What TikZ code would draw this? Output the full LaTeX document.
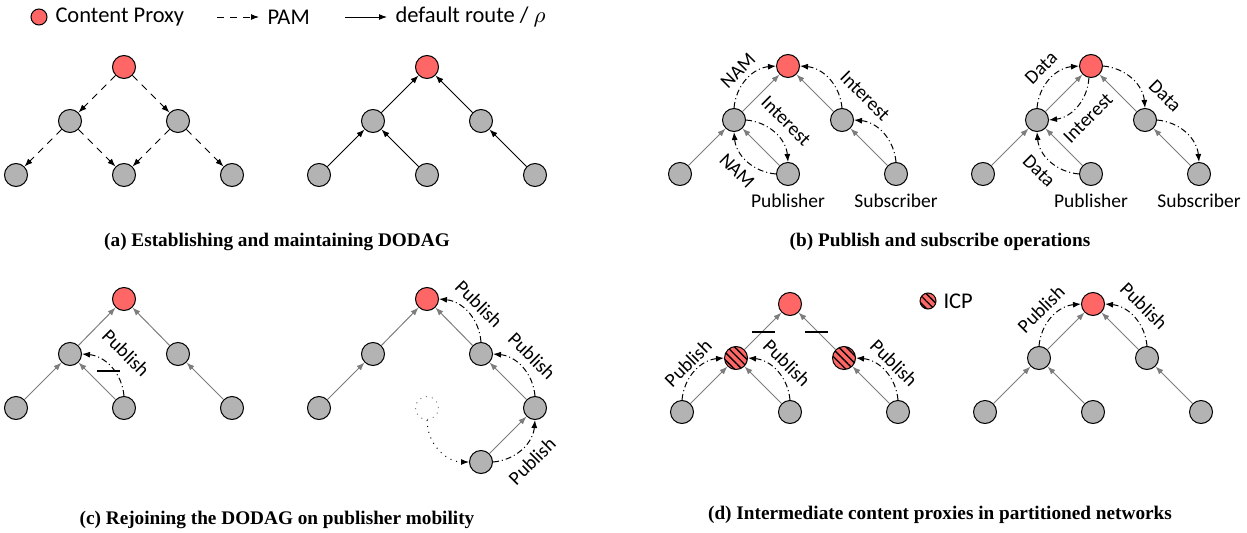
\documentclass[tikz,border=0pt]{standalone}
\usepackage{fontspec}
\setmainfont{Liberation Serif}
\newfontfamily\labelfont{Carlito}
\usetikzlibrary{arrows.meta,patterns.meta}

\definecolor{proxyred}{RGB}{255,102,102}
\definecolor{nodegray}{RGB}{179,179,179}
\definecolor{edgegray}{RGB}{125,125,125}

\tikzset{
  x=0.4pt, y=0.4pt,
  tip/.style={-{Latex[length=3.2pt,width=2.4pt]}},
  vertex/.style={circle, draw=black, line width=0.4pt, fill=nodegray,
    minimum size=9.2pt, inner sep=0pt},
  proxy/.style={vertex, fill=proxyred},
  icp/.style={proxy, postaction={pattern={Lines[angle=-45,distance=2.1pt,line width=0.55pt]}}},
  ghost/.style={circle, draw=gray, dotted, line width=0.4pt,
    minimum size=9.2pt, inner sep=0pt},
  pam/.style={tip, line width=0.4pt, dash pattern=on 2.8pt off 2.4pt},
  route/.style={tip, line width=0.4pt},
  link/.style={-{Latex[length=3.2pt,width=2.4pt]}, draw=edgegray, line width=0.4pt},
  msg/.style={tip, line width=0.4pt, dash pattern=on 2.4pt off 1.2pt on 0.4pt off 1.2pt},
  move/.style={tip, line width=0.4pt, dotted},
  cut/.style={line width=0.45pt},
  lbl/.style={font=\labelfont\fontsize{7.8}{9}\selectfont, inner sep=0pt},
  legend/.style={font=\labelfont\fontsize{9}{10}\selectfont, inner sep=0pt, anchor=west},
  caption/.style={font=\bfseries\fontsize{7.7}{9}\selectfont, inner sep=0pt},
}

\begin{document}
\begin{tikzpicture}
\useasboundingbox (0,0) rectangle (1247,-533);

% ---------- legend ----------
\node[proxy, minimum size=6.4pt] (lgproxy) at (39,-17) {};
\node[legend] (lgproxytxt) at (55,-17) {Content Proxy};
\coordinate (pamA) at (217,-17);
\coordinate (pamB) at (259,-17);
\draw[pam] (pamA) -- (pamB);
\node[legend] (pamtxt) at (267,-17) {PAM};
\coordinate (rtA) at (345,-17);
\coordinate (rtB) at (387,-17);
\draw[route] (rtA) -- (rtB);
\node[legend] (rttxt) at (395,-17) {default route / $\rho$};

% ---------- (a) left: PAM flooding ----------
\node[proxy]  (a1r)  at (124,-67) {};
\node[vertex] (a1m1) at (70,-121) {};
\node[vertex] (a1m2) at (178,-121) {};
\node[vertex] (a1l1) at (16,-175) {};
\node[vertex] (a1l2) at (124,-175) {};
\node[vertex] (a1l3) at (232,-175) {};
\draw[pam] (a1r) -- (a1m1);
\draw[pam] (a1r) -- (a1m2);
\draw[pam] (a1m1) -- (a1l1);
\draw[pam] (a1m1) -- (a1l2);
\draw[pam] (a1m2) -- (a1l2);
\draw[pam] (a1m2) -- (a1l3);

% ---------- (a) right: default routes ----------
\node[proxy]  (a2r)  at (427,-67) {};
\node[vertex] (a2m1) at (373,-121) {};
\node[vertex] (a2m2) at (481,-121) {};
\node[vertex] (a2l1) at (319,-175) {};
\node[vertex] (a2l2) at (427,-175) {};
\node[vertex] (a2l3) at (535,-175) {};
\draw[route] (a2l1) -- (a2m1);
\draw[route] (a2l2) -- (a2m1);
\draw[route] (a2l3) -- (a2m2);
\draw[route] (a2m1) -- (a2r);
\draw[route] (a2m2) -- (a2r);

\node[caption] (capa) at (277,-242) {(a) Establishing and maintaining DODAG};

% ---------- (b) left: NAM and Interest ----------
\node[proxy]  (b1r)  at (788,-66) {};
\node[vertex] (b1m1) at (734,-120) {};
\node[vertex] (b1m2) at (842,-120) {};
\node[vertex] (b1l1) at (680,-174) {};
\node[vertex] (b1l2) at (788,-174) {};
\node[vertex] (b1l3) at (896,-174) {};
\draw[link] (b1l1) -- (b1m1);
\draw[link] (b1l2) -- (b1m1);
\draw[link] (b1l3) -- (b1m2);
\draw[link] (b1m1) -- (b1r);
\draw[link] (b1m2) -- (b1r);
\draw[msg] (b1m1.north) to[bend left=40] (b1r.west);
\draw[msg] (b1m1.east) to[bend left=40] (b1l2.north);
\draw[msg] (b1l2.west) to[bend left=40] (b1m1.south);
\draw[msg] (b1l3.north) to[bend right=40] (b1m2.east);
\draw[msg] (b1m2.north) to[bend right=40] (b1r.east);
\node[lbl, rotate=45]  (b1t1) at (738,-71) {NAM};
\node[lbl, rotate=-45] (b1t2) at (786,-121) {Interest};
\node[lbl, rotate=-45] (b1t3) at (737,-171) {NAM};
\node[lbl, rotate=-45] (b1t4) at (865,-96) {Interest};
\node[lbl] (b1pub) at (788,-201) {Publisher};
\node[lbl] (b1sub) at (896,-201) {Subscriber};

% ---------- (b) right: Data delivery ----------
\node[proxy]  (b2r)  at (1091,-66) {};
\node[vertex] (b2m1) at (1037,-120) {};
\node[vertex] (b2m2) at (1145,-120) {};
\node[vertex] (b2l1) at (983,-174) {};
\node[vertex] (b2l2) at (1091,-174) {};
\node[vertex] (b2l3) at (1199,-174) {};
\draw[link] (b2l1) -- (b2m1);
\draw[link] (b2l2) -- (b2m1);
\draw[link] (b2l3) -- (b2m2);
\draw[link] (b2m1) -- (b2r);
\draw[link] (b2m2) -- (b2r);
\draw[msg] (b2l2.west) to[bend left=40] (b2m1.south);
\draw[msg] (b2m1.north) to[bend left=40] (b2r.west);
\draw[msg] (b2r.-100) to[bend left=40] (b2m1.east);
\draw[msg] (b2r.east) to[bend left=40] (b2m2.north);
\draw[msg] (b2m2.east) to[bend left=40] (b2l3.north);
\node[lbl, rotate=45]  (b2t1) at (1041,-68) {Data};
\node[lbl, rotate=45]  (b2t2) at (1088,-118) {Interest};
\node[lbl, rotate=-45] (b2t3) at (1039,-171) {Data};
\node[lbl, rotate=-45] (b2t4) at (1165,-96) {Data};
\node[lbl] (b2pub) at (1091,-201) {Publisher};
\node[lbl] (b2sub) at (1199,-201) {Subscriber};

\node[caption] (capb) at (940,-242) {(b) Publish and subscribe operations};

% ---------- (c) left: broken publish path ----------
\node[proxy]  (c1r)  at (124,-299) {};
\node[vertex] (c1m1) at (70,-354) {};
\node[vertex] (c1m2) at (178,-354) {};
\node[vertex] (c1l1) at (16,-408) {};
\node[vertex] (c1l2) at (124,-408) {};
\node[vertex] (c1l3) at (232,-408) {};
\draw[link] (c1l1) -- (c1m1);
\draw[link] (c1l2) -- (c1m1);
\draw[link] (c1l3) -- (c1m2);
\draw[link] (c1m1) -- (c1r);
\draw[link] (c1m2) -- (c1r);
\draw[msg] (c1l2.north) to[bend right=40] (c1m1.east);
\coordinate (c1cutA) at (97,-371);
\coordinate (c1cutB) at (120,-371);
\draw[cut] (c1cutA) -- (c1cutB);
\node[lbl, rotate=-45] (c1t1) at (126,-353) {Publish};

% ---------- (c) right: publisher moved ----------
\node[proxy]  (c2r)  at (427,-299) {};
\node[vertex] (c2m1) at (373,-354) {};
\node[vertex] (c2m2) at (481,-354) {};
\node[vertex] (c2l1) at (319,-408) {};
\node[ghost]  (c2d)  at (427,-408) {};
\node[vertex] (c2l3) at (535,-408) {};
\node[vertex] (c2b)  at (481,-462) {};
\draw[link] (c2l1) -- (c2m1);
\draw[link] (c2m1) -- (c2r);
\draw[link] (c2m2) -- (c2r);
\draw[link] (c2l3) -- (c2m2);
\draw[link] (c2b) -- (c2l3);
\draw[msg] (c2m2.north) to[bend right=40] (c2r.east);
\draw[msg] (c2l3.north) to[bend right=40] (c2m2.east);
\draw[msg] (c2b.east) to[bend right=40] (c2l3.south);
\draw[move] (c2d.south) to[out=-90, in=180] (c2b.west);
\node[lbl, rotate=-45] (c2t1) at (479,-304) {Publish};
\node[lbl, rotate=-45] (c2t2) at (532,-356) {Publish};
\node[lbl, rotate=45]  (c2t3) at (532,-461) {Publish};

\node[caption] (capc) at (277,-520) {(c) Rejoining the DODAG on publisher mobility};

% ---------- (d) left: intermediate content proxies ----------
\node[proxy]  (d1r)  at (790,-304) {};
\node[icp]    (d1m1) at (736,-358) {};
\node[icp]    (d1m2) at (844,-358) {};
\node[vertex] (d1l1) at (682,-412) {};
\node[vertex] (d1l2) at (790,-412) {};
\node[vertex] (d1l3) at (898,-412) {};
\draw[link] (d1l1) -- (d1m1);
\draw[link] (d1l2) -- (d1m1);
\draw[link] (d1l3) -- (d1m2);
\draw[link] (d1m1) -- (d1r);
\draw[link] (d1m2) -- (d1r);
\coordinate (d1cutA) at (752,-332);
\coordinate (d1cutB) at (775,-332);
\coordinate (d1cutC) at (805,-332);
\coordinate (d1cutD) at (828,-332);
\draw[cut] (d1cutA) -- (d1cutB);
\draw[cut] (d1cutC) -- (d1cutD);
\draw[msg] (d1l1.north) to[bend left=40] (d1m1.west);
\draw[msg] (d1l2.north) to[bend right=40] (d1m1.east);
\draw[msg] (d1l3.north) to[bend right=40] (d1m2.east);
\node[lbl, rotate=45]  (d1t1) at (688,-363) {Publish};
\node[lbl, rotate=-45] (d1t2) at (787,-363) {Publish};
\node[lbl, rotate=-45] (d1t3) at (894,-363) {Publish};

\node[icp, minimum size=6.4pt] (lgicp) at (928,-301) {};
\node[legend] (lgicptxt) at (943,-301) {ICP};

% ---------- (d) right: merged network ----------
\node[proxy]  (d2r)  at (1093,-304) {};
\node[vertex] (d2m1) at (1039,-358) {};
\node[vertex] (d2m2) at (1147,-358) {};
\node[vertex] (d2l1) at (985,-412) {};
\node[vertex] (d2l2) at (1093,-412) {};
\node[vertex] (d2l3) at (1201,-412) {};
\draw[link] (d2l1) -- (d2m1);
\draw[link] (d2l2) -- (d2m1);
\draw[link] (d2l3) -- (d2m2);
\draw[link] (d2m1) -- (d2r);
\draw[link] (d2m2) -- (d2r);
\draw[msg] (d2m1.north) to[bend left=40] (d2r.west);
\draw[msg] (d2m2.north) to[bend right=40] (d2r.east);
\node[lbl, rotate=45]  (d2t1) at (1041,-309) {Publish};
\node[lbl, rotate=-45] (d2t2) at (1144,-306) {Publish};

\node[caption] (capd) at (940,-515) {(d) Intermediate content proxies in partitioned networks};
\end{tikzpicture}
\end{document}
